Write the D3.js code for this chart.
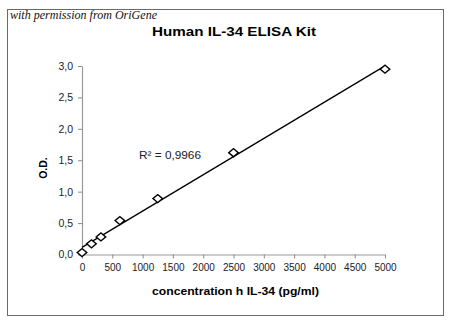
<!DOCTYPE html>
<html>
<head>
<meta charset="utf-8">
<script src="https://cdn.jsdelivr.net/npm/d3@7"></script>
<style>
  html, body { margin: 0; padding: 0; background: #fff; }
  svg { display: block; }
</style>
</head>
<body>
<div id="chart"></div>
<script>
// Standard curve: concentration of human IL-34 (pg/ml) vs optical density
const concentrations = [0, 156.25, 312.5, 625, 1250, 2500, 5000];
const odValues = [0.03, 0.17, 0.28, 0.54, 0.89, 1.62, 2.95];
const xTickValues = [0, 500, 1000, 1500, 2000, 2500, 3000, 3500, 4000, 4500, 5000];
const xTickLabels = ["0", "500", "1000", "1500", "2000", "2500", "3000", "3500", "4000", "4500", "5000"];
const yTickValues = [0, 0.5, 1.0, 1.5, 2.0, 2.5, 3.0];
const yTickLabels = ["0,0", "0,5", "1,0", "1,5", "2,0", "2,5", "3,0"];
const rSquaredLabel = "R\u00B2 = 0,9966";

const W = 450, H = 327;
const svg = d3.select("#chart").append("svg").attr("width", W).attr("height", H);

// outer frame
svg.append("rect")
  .attr("x", 7.5).attr("y", 9.5).attr("width", 436).attr("height", 306)
  .attr("fill", "#fff").attr("stroke", "#6a6a6a").attr("stroke-width", 1);

svg.append("text")
  .attr("x", 10).attr("y", 19)
  .attr("font-family", "'Liberation Serif', serif")
  .attr("font-style", "italic")
  .attr("font-size", 12)
  .attr("textLength", 147).attr("lengthAdjust", "spacingAndGlyphs")
  .attr("fill", "#111")
  .text("with permission from OriGene");

const x = d3.scaleLinear().domain([0, 5000]).range([82, 385]);
const y = d3.scaleLinear().domain([0, 3]).range([254.5, 66]);

// title
svg.append("text")
  .attr("x", 152).attr("y", 36)
  .attr("font-family", "'Liberation Sans', Arial, sans-serif")
  .attr("font-weight", "bold")
  .attr("font-size", 13.5)
  .attr("textLength", 164).attr("lengthAdjust", "spacingAndGlyphs")
  .attr("fill", "#000")
  .text("Human IL-34 ELISA Kit");

// axes
const xAxis = d3.axisBottom(x)
  .tickValues(xTickValues)
  .tickFormat((d, i) => xTickLabels[i])
  .tickSizeInner(4).tickSizeOuter(0).tickPadding(5);
const yAxis = d3.axisLeft(y)
  .tickValues(yTickValues)
  .tickFormat((d, i) => yTickLabels[i])
  .tickSizeInner(4).tickSizeOuter(0).tickPadding(5);

const gx = svg.append("g").attr("transform", `translate(0,${y(0)})`).call(xAxis);
const gy = svg.append("g").attr("transform", `translate(${x(0)},0)`).call(yAxis);

[gx, gy].forEach(g => {
  g.select(".domain").attr("stroke", "#9a9a9a").attr("stroke-width", 1.2);
  g.selectAll(".tick line").attr("stroke", "#8a8a8a");
  g.selectAll(".tick text")
    .attr("font-family", "'Liberation Sans', Arial, sans-serif")
    .attr("font-size", 10.5)
    .attr("fill", "#222");
});
gx.selectAll(".tick text").attr("font-size", 10);

// axis titles
svg.append("text")
  .attr("transform", `translate(47,168) rotate(-90)`)
  .attr("text-anchor", "middle")
  .attr("font-family", "'Liberation Sans', Arial, sans-serif")
  .attr("font-weight", "bold")
  .attr("font-size", 10.5)
  .attr("fill", "#000")
  .text("O.D.");

svg.append("text")
  .attr("x", 152).attr("y", 295)
  .attr("font-family", "'Liberation Sans', Arial, sans-serif")
  .attr("font-weight", "bold")
  .attr("font-size", 10.5)
  .attr("textLength", 167).attr("lengthAdjust", "spacingAndGlyphs")
  .attr("fill", "#000")
  .text("concentration h IL-34 (pg/ml)");

// least-squares linear trendline over the full concentration range
const mx = d3.mean(concentrations), my = d3.mean(odValues);
const sxy = d3.sum(concentrations, (c, i) => (c - mx) * (odValues[i] - my));
const sxx = d3.sum(concentrations, c => (c - mx) * (c - mx));
const slope = sxy / sxx, intercept = my - slope * mx;
const fitDomain = [0, 5000];

svg.append("path")
  .datum(fitDomain.map(c => [c, intercept + slope * c]))
  .attr("d", d3.line().x(d => x(d[0])).y(d => y(d[1])))
  .attr("fill", "none")
  .attr("stroke", "#000")
  .attr("stroke-width", 1.3);

// data markers (open diamonds)
const diamond = d3.symbol().type(d3.symbolSquare).size(38);
svg.append("g").selectAll("path")
  .data(concentrations.map((c, i) => ({ c, od: odValues[i] })))
  .join("path")
  .attr("d", diamond)
  .attr("transform", d => `translate(${x(d.c)},${y(d.od)}) scale(1.1,0.92) rotate(45)`)
  .attr("fill", "#fff")
  .attr("stroke", "#000")
  .attr("stroke-width", 1.4);

// coefficient of determination
svg.append("text")
  .attr("x", 139).attr("y", 159)
  .attr("font-family", "'Liberation Sans', Arial, sans-serif")
  .attr("font-size", 10.5)
  .attr("textLength", 62).attr("lengthAdjust", "spacingAndGlyphs")
  .attr("fill", "#222")
  .text(rSquaredLabel);
</script>
</body>
</html>
